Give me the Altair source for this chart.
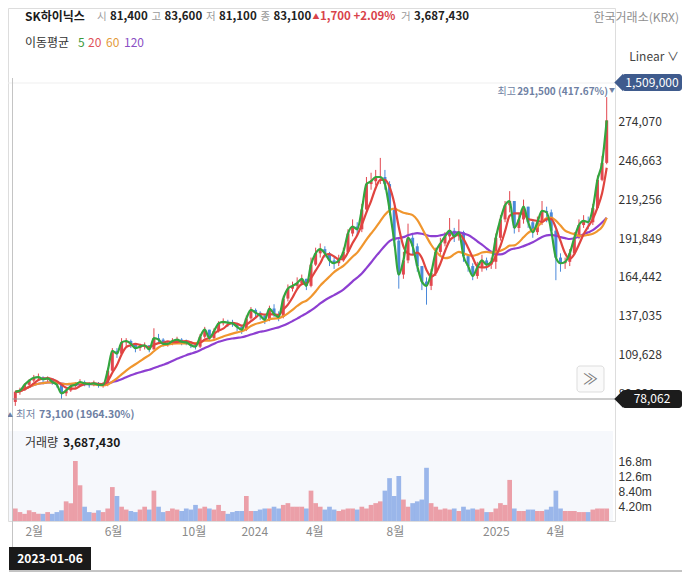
import altair as alt
import pandas as pd

FONT = "Noto Sans CJK KR"

# ---------------- data (weekly; prices in thousand KRW) ----------------
week_start = "2023-01-04"
close_k = [83.1, 84, 88, 91, 93, 93.5, 92, 92.5, 90, 88,
           82, 84, 87, 88, 90, 89, 88.5, 89, 88, 88,
           98, 112, 110, 118, 119, 117, 114, 115, 116, 113,
           121, 120, 117, 117, 119, 120, 118.5, 118, 116, 115,
           122, 127, 121, 126, 131.5, 132.5, 132, 131.5, 129, 127,
           135, 141, 139, 137, 134, 142, 138, 136, 149, 156,
           158, 160, 163, 158, 173, 181, 184, 181, 176, 174,
           176, 182, 195, 200, 198, 212, 230, 232, 235, 235,
           230, 212, 190, 166, 176, 192, 186, 172, 161, 158,
           167, 182, 188, 193, 197, 193, 196, 179, 172, 165,
           171, 176, 173, 175, 192, 205, 215, 218, 199, 205,
           214, 203, 196, 203, 211, 210, 197, 178, 174, 175,
           181, 192, 201, 204, 203, 213, 233, 245, 275]
high_k = [83.6, 86, 89, 92, 95, 96, 94, 94, 92, 90,
          88, 85, 88, 90, 92, 91, 90, 91, 90, 90,
          100, 114, 114, 121, 121, 120, 117, 117, 118, 116,
          128, 124, 121, 119, 121, 122, 121, 120, 119, 117,
          124, 129, 127, 128, 133, 135, 134, 134, 132, 130,
          137, 143, 142, 140, 138, 144, 145, 140, 151, 159,
          161, 164, 166, 163, 178, 185, 188, 186, 182, 178,
          180, 185, 198, 205, 203, 216, 235, 238, 240, 248.5,
          240, 232, 212, 192, 182, 202, 194, 188, 172, 164,
          170, 185, 192, 196, 206, 199, 205, 197, 180, 174,
          175, 180, 178, 178, 195, 208, 218, 225, 218, 209,
          219, 214, 205, 207, 218, 214, 212, 198, 181, 178,
          184, 196, 205, 208, 207, 216, 236, 250, 291.5]
low_k = [73.1, 81, 84, 87, 90, 91, 90, 90, 88, 86,
         78, 80, 83, 86, 87, 87, 86, 87, 86, 86,
         87, 97, 107, 109, 115, 114, 111, 112, 113, 111,
         113, 117, 115, 115, 116, 118, 116, 116, 114, 113,
         114, 121, 119, 120, 125, 130, 129, 129, 126, 124,
         126, 134, 136, 134, 131, 133, 136, 133, 135, 147,
         154, 156, 159, 155, 157, 172, 178, 178, 172, 170,
         172, 175, 181, 193, 194, 196, 210, 226, 229, 230,
         226, 208, 186, 156, 163, 174, 180, 168, 155, 144.7,
         155, 165, 180, 186, 190, 189, 190, 175, 168, 162,
         163, 168, 169, 170, 170, 190, 203, 210, 195, 196,
         202, 199, 192, 194, 201, 203, 193, 162, 168, 170,
         172, 180, 191, 199, 198, 201, 212, 232, 244]
first_open_k = 75.9
volume_m = [3.5, 2.5, 2, 3, 2.5, 2, 2, 2.5, 2, 2.5,
            3, 5.5, 5, 16.8, 10, 4, 2.5, 2.3, 3, 2.5,
            3.5, 9.5, 7, 4, 3.2, 2.8, 2.5, 3.2, 4, 3.2,
            8.5, 4, 2.5, 2.8, 3.5, 3.2, 2.8, 3.5, 3.2, 4.5,
            3.5, 4, 3.5, 3.2, 4.5, 2.8, 2, 2.5, 2.8, 2.8,
            7, 2.8, 2.8, 3.2, 3.5, 3.5, 4, 3.5, 4.5, 5,
            4, 4, 4, 3.5, 8.5, 5, 4, 3.2, 4, 3.2,
            2.8, 3.2, 3.5, 3.5, 3.2, 4, 3.5, 4.5, 5, 5.5,
            8.5, 12, 7, 12.6, 6, 4, 5, 5.5, 6, 14.9,
            5, 4, 3.2, 3.5, 3.2, 3.5, 2.8, 4, 3.2, 3.5,
            3.2, 3.5, 2.5, 2.5, 3.5, 5, 4.5, 11.5, 3.5, 2.8,
            2.8, 3.2, 3.2, 2.8, 2.8, 3.2, 4, 8.5, 3.5, 2.8,
            2.8, 2.8, 2.5, 2.5, 2.5, 3.2, 3.5, 3.5, 3.5]

price_ticks = [82221, 109628, 137035, 164442, 191849, 219256, 246663, 274070]
top_grid_price = [301477]
volume_ticks = [4200000, 8400000, 12600000, 16800000]
month_ticks = [(2023, 2), (2023, 6), (2023, 10), (2024, 1), (2024, 4), (2024, 8), (2025, 1), (2025, 4)]

df = pd.DataFrame({
    "date": pd.date_range(week_start, periods=len(close_k), freq="7D"),
    "close": [c * 1000 for c in close_k],
    "high": [h * 1000 for h in high_k],
    "low": [l * 1000 for l in low_k],
    "volume": [v * 1e6 for v in volume_m],
})
df["open"] = df["close"].shift(1).fillna(first_open_k * 1000)

UP, DOWN = "#e2474f", "#4a89da"
VUP, VDOWN = "#e98f99", "#8aaae6"

# ---------------- scales / axes ----------------
xscale = alt.Scale(domain=[alt.DateTime(year=2022, month=12, date=31, hours=12),
                           alt.DateTime(year=2025, month=6, date=23)])
xaxis = alt.Axis(values=[alt.DateTime(year=y, month=m, date=1) for y, m in month_ticks],
                 labelExpr="month(datum.value) == 0 ? timeFormat(datum.value, '%Y') : (month(datum.value) + 1) + '월'",
                 title=None, grid=False, domain=False, ticks=False, labelPadding=5,
                 labelColor="#8a8a8a", labelFontSize=12, labelFont=FONT)
xenc = alt.X("date:T", scale=xscale, axis=xaxis)

pscale = alt.Scale(domain=[82221, 301477], range=[385, 75], nice=False, zero=False)
paxis = alt.Axis(orient="right", values=price_ticks, format=",d", title=None, domain=False,
                 ticks=False, labelPadding=3, gridColor="#efefef", labelColor="#333333",
                 labelFontSize=12, labelFont=FONT)
vscale = alt.Scale(domain=[0, 25200000], range=[513, 423], nice=False, zero=True)
vaxis = alt.Axis(orient="right", values=volume_ticks, title=None, domain=False, ticks=False,
                 grid=False, labelPadding=3, labelColor="#333333", labelFontSize=12,
                 labelFont="Liberation Sans", labelOverlap=False,
                 labelExpr="format(datum.value / 1000000, '.3g') + 'm'")

base = alt.Chart(df)
updown = alt.condition("datum.close >= datum.open", alt.value(UP), alt.value(DOWN))

top_grid = alt.Chart(pd.DataFrame({"p": top_grid_price})).mark_rule(color="#efefef").encode(
    y=alt.Y("p:Q", scale=pscale, axis=paxis))
wicks = base.mark_rule(strokeWidth=1).encode(
    x=xenc, y=alt.Y("low:Q", scale=pscale, axis=paxis), y2="high:Q", color=updown)
bodies = base.mark_bar(size=3).encode(
    x=xenc, y=alt.Y("open:Q", scale=pscale, axis=paxis), y2="close:Q", color=updown)


def ma_line(frame_back, color):
    return base.transform_window(
        ma="mean(close)", frame=[-frame_back, 0], sort=[alt.SortField("date")]
    ).mark_line(color=color, strokeWidth=2.2, interpolate="monotone").encode(
        x=xenc, y=alt.Y("ma:Q", scale=pscale, axis=paxis))


ma120 = ma_line(23, "#8d3fd1")
ma60 = ma_line(11, "#f0962e")
ma20 = ma_line(3, "#e0443f")
ma5 = base.mark_line(color="#33a63f", strokeWidth=2.2, interpolate="monotone").encode(
    x=xenc, y=alt.Y("close:Q", scale=pscale, axis=paxis))

price_group = alt.layer(top_grid, wicks, bodies, ma120, ma60, ma20, ma5)

vol_bars = base.mark_bar(size=4.7, opacity=0.85).encode(
    x=xenc, y=alt.Y("volume:Q", scale=vscale, axis=vaxis),
    color=alt.condition("datum.close >= datum.open", alt.value(VUP), alt.value(VDOWN)))
vol_group = alt.layer(vol_bars)

one = pd.DataFrame({"t": [""]})


def label(s, x, y, size=12, color="#222222", weight="normal", align="left"):
    return alt.Chart(pd.DataFrame({"t": [s]})).mark_text(
        align=align, baseline="middle", fontSize=size, fontWeight=weight, color=color, font=FONT
    ).encode(x=alt.value(x - 8), y=alt.value(y - 8), text="t:N")


def box(x1, x2, y1, y2, fill, stroke=None, radius=0):
    kw = dict(fill=fill, cornerRadius=radius)
    if stroke:
        kw["stroke"] = stroke
        kw["strokeWidth"] = 1
    return alt.Chart(one).mark_rect(**kw).encode(
        x=alt.value(x1 - 8), x2=alt.value(x2 - 8), y=alt.value(y1 - 8), y2=alt.value(y2 - 8))


def hline(x1, x2, y, color, w=1):
    return alt.Chart(one).mark_rule(color=color, strokeWidth=w).encode(
        x=alt.value(x1 - 8), x2=alt.value(x2 - 8), y=alt.value(y - 8))


def vline(x, y1, y2, color, w=1):
    return alt.Chart(one).mark_rule(color=color, strokeWidth=w).encode(
        x=alt.value(x - 8), y=alt.value(y1 - 8), y2=alt.value(y2 - 8))


def pointer(x, y, color):
    return alt.Chart(one).mark_point(shape="M 0 -1 L -1 0 L 0 1 Z", filled=True, size=300,
                                     color=color, opacity=1, strokeWidth=0).encode(
        x=alt.value(x - 8), y=alt.value(y - 8))


GRAY = "#9a9a9a"
SLATE = "#6e7fa3"
HY = 17
NUM = 11.5
LAB = 10.5
deco_back = [
    box(9, 613, 431, 521, "#f6f8fc"),
]
deco_front = [
    vline(12.5, 78, 547, "#c4c4c4"),
    hline(12.5, 615, 399, "#9a9a9a"),
    # header
    label("SK하이닉스", 25, HY, 12, "#1a1a1a", "bold"),
    label("시", 97, HY, LAB, GRAY), label("81,400", 110, HY, NUM, "#222222", "bold"),
    label("고", 151.5, HY, LAB, GRAY), label("83,600", 164.5, HY, NUM, "#222222", "bold"),
    label("저", 206, HY, LAB, GRAY), label("81,100", 219, HY, NUM, "#222222", "bold"),
    label("종", 260.5, HY, LAB, GRAY), label("83,100", 273.5, HY, NUM, "#222222", "bold"),
    label("▲", 316, HY, 7, "#d9434a", align="center"),
    label("1,700 +2.09%", 320, HY, NUM, "#d9434a", "bold"),
    label("거", 401, HY, LAB, GRAY), label("3,687,430", 414, HY, NUM, "#222222", "bold"),
    label("한국거래소(KRX)", 679, 18, 12, "#8f8f8f", align="right"),
    label("이동평균", 25, 43, 12, "#333333"),
    label("5", 78, 43, 12, "#3a9a3a"), label("20", 88, 43, 12, "#e0525a"),
    label("60", 106, 43, 12, "#e39b3a"), label("120", 124, 43, 12, "#8b4fc4"),
    label("Linear ∨", 679, 57, 12, "#444444", align="right"),
    # highest / lowest notes
    label("최고", 516, 92, 10, SLATE, align="right"),
    label("291,500 (417.67%)", 608, 92, 10, SLATE, "bold", align="right"),
    label("▼", 612, 90, 6, SLATE, align="center"),
    label("▲", 10, 415, 6, SLATE, align="center"), label("최저", 16, 415, 10.5, SLATE),
    label("73,100 (1964.30%)", 39, 415, 10.5, SLATE, "bold"),
    # price tags on the axis
    box(622, 682, 74, 91, "#3f5b8d", radius=3), pointer(623, 82.5, "#3f5b8d"),
    label("1,509,000", 652, 82.5, 12, "#ffffff", align="center"),
    box(622, 682, 390, 408, "#1c1c1c", radius=3), pointer(623, 399, "#1c1c1c"),
    label("78,062", 652, 399, 12, "#ffffff", align="center"),
    # scroll button
    box(577, 604, 366, 392, "#fafafa", stroke="#dddddd", radius=3),
    label("≫", 590.5, 379, 15, "#777777", align="center"),
    # volume title
    label("거래량", 25, 443, 12, "#333333"), label("3,687,430", 63, 443, 12, "#1a1a1a", "bold"),
    # date box and bottom rule
    hline(9, 682, 571, "#888888"),
    box(9, 91, 547, 570, "#1a1a1a"),
    label("2023-01-06", 50, 558.5, 12, "#ffffff", "bold", align="center"),
]

chart = alt.layer(*deco_back, vol_group, price_group, *deco_front).resolve_scale(
    y="independent"
).properties(
    width=607, height=513,
    padding={"left": 0, "top": 0, "right": 67, "bottom": 53},
    autosize=alt.AutoSizeParams(type="none"),
    background="#ffffff",
).configure_view(strokeWidth=0).configure(font=FONT)

chart.save("out.html", embed_options={"renderer": "svg", "actions": False})
